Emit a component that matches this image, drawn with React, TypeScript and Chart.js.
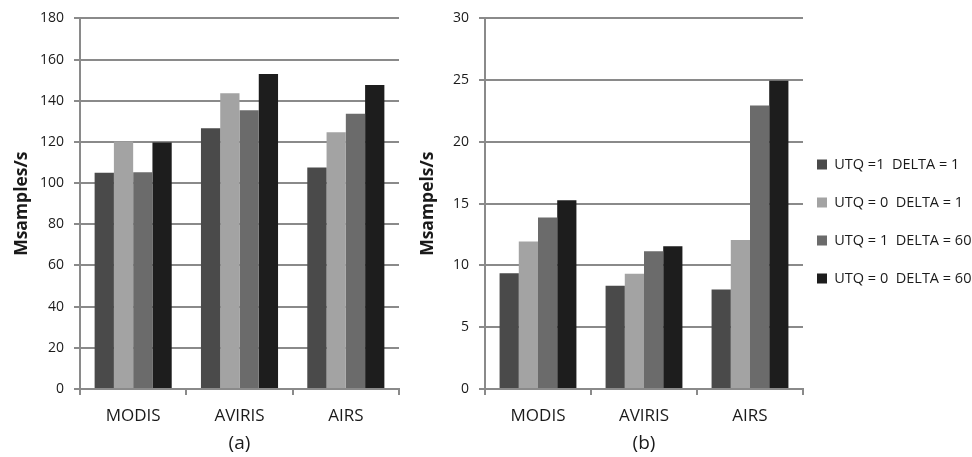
import React, { useEffect, useRef } from "react";
import { Chart, registerables } from "chart.js";

Chart.register(...registerables);

const categories = ["MODIS", "AVIRIS", "AIRS"];
const seriesLabels = [
  "UTQ =1  DELTA = 1",
  "UTQ = 0  DELTA = 1",
  "UTQ = 1  DELTA = 60",
  "UTQ = 0  DELTA = 60",
];
const seriesColors = ["#4a4a4a", "#a3a3a3", "#6b6b6b", "#1d1d1d"];

// Panel (a): Msamples/s, one array per series (MODIS, AVIRIS, AIRS)
const panelA_values = [
  [105, 126.7, 107.6],
  [120.2, 143.6, 124.7],
  [105.3, 135.4, 133.7],
  [119.7, 153, 147.7],
];
// Panel (b): Msampels/s
const panelB_values = [
  [9.36, 8.36, 8.05],
  [11.95, 9.32, 12.07],
  [13.88, 11.15, 22.95],
  [15.27, 11.55, 24.95],
];

const yTicksA = { min: 0, max: 180, step: 20 };
const yTicksB = { min: 0, max: 30, step: 5 };

const FONT = "'Open Sans', sans-serif";
const GRID = "#8a8a8a";
const TEXT = "#1a1a1a";

function makeDatasets(values: number[][]) {
  return values.map((v, i) => ({
    label: seriesLabels[i],
    data: v,
    backgroundColor: seriesColors[i],
    borderWidth: 0,
    barPercentage: 1,
    categoryPercentage: 0.725,
  }));
}

function baseOptions(
  yr: { min: number; max: number; step: number },
  yTitle: string,
  yWidth: number,
  yTitlePadTop: number,
  xTitle: string,
  xHeight: number,
  xTitlePadBottom: number
): any {
  return {
    responsive: false,
    animation: false,
    events: [],
    scales: {
      x: {
        grid: {
          drawOnChartArea: false,
          drawTicks: true,
          tickLength: 6,
          color: GRID,
          lineWidth: 2,
          offset: true,
        },
        border: { display: true, color: GRID, width: 2 },
        ticks: { font: { family: FONT, size: 17 }, color: TEXT, padding: 11 },
        title: {
          display: true,
          text: xTitle,
          color: TEXT,
          font: { family: FONT, size: 19 },
          padding: { top: 0, bottom: xTitlePadBottom },
        },
        afterFit: (s: any) => {
          s.height = xHeight;
        },
      },
      y: {
        min: yr.min,
        max: yr.max,
        ticks: {
          stepSize: yr.step,
          font: { family: FONT, size: 14 },
          color: TEXT,
          padding: 10,
        },
        grid: { color: GRID, lineWidth: 2, tickLength: 6, drawTicks: true },
        border: { display: true, color: GRID, width: 2 },
        title: {
          display: true,
          text: yTitle,
          color: TEXT,
          font: { family: FONT, size: 17.5, weight: "bold" },
          padding: { top: yTitlePadTop, bottom: 0 },
        },
        afterFit: (s: any) => {
          s.width = yWidth;
        },
      },
    },
  };
}

// canvas (b) starts here; its width also bounds the legend width (1/4 of it)
const B_LEFT = 296;

export default function App() {
  const refA = useRef<HTMLCanvasElement>(null);
  const refB = useRef<HTMLCanvasElement>(null);

  useEffect(() => {
    const optsA = baseOptions(yTicksA, "Msamples/s", 80, 11.5, "(a)", 68, 1.6);
    optsA.layout = { padding: { top: 16, right: 1, bottom: 0, left: 0 } };
    optsA.plugins = { legend: { display: false }, tooltip: { enabled: false } };

    const optsB = baseOptions(
      yTicksB,
      "Msampels/s",
      485 - B_LEFT,
      428 - B_LEFT - 10.5,
      "(b)",
      47.5,
      -18.9
    );
    optsB.layout = { padding: { top: 16, right: 0, bottom: 20.5, left: 0 } };
    optsB.plugins = {
      tooltip: { enabled: false },
      legend: {
        display: true,
        position: "right",
        labels: {
          boxWidth: 10,
          boxHeight: 10,
          padding: 14,
          color: TEXT,
          font: { family: FONT, size: 14.5, lineHeight: "24px" },
          generateLabels: (chart: any) =>
            Chart.defaults.plugins.legend.labels
              .generateLabels(chart)
              .map((l: any) => ({ ...l, text: [l.text] })),
        },
      },
    };

    const a = new Chart(refA.current!, {
      type: "bar",
      data: { labels: categories, datasets: makeDatasets(panelA_values) as any },
      options: optsA,
    });
    const b = new Chart(refB.current!, {
      type: "bar",
      data: { labels: categories, datasets: makeDatasets(panelB_values) as any },
      options: optsB,
    });
    return () => {
      a.destroy();
      b.destroy();
    };
  }, []);

  return (
    <div style={{ position: "absolute", left: 0, top: 0, width: 972, height: 457, background: "#fff" }}>
      <canvas ref={refA} width={400} height={457} style={{ position: "absolute", left: 0, top: 0 }} />
      <canvas
        ref={refB}
        width={972 - B_LEFT}
        height={457}
        style={{ position: "absolute", left: B_LEFT, top: 0 }}
      />
    </div>
  );
}
